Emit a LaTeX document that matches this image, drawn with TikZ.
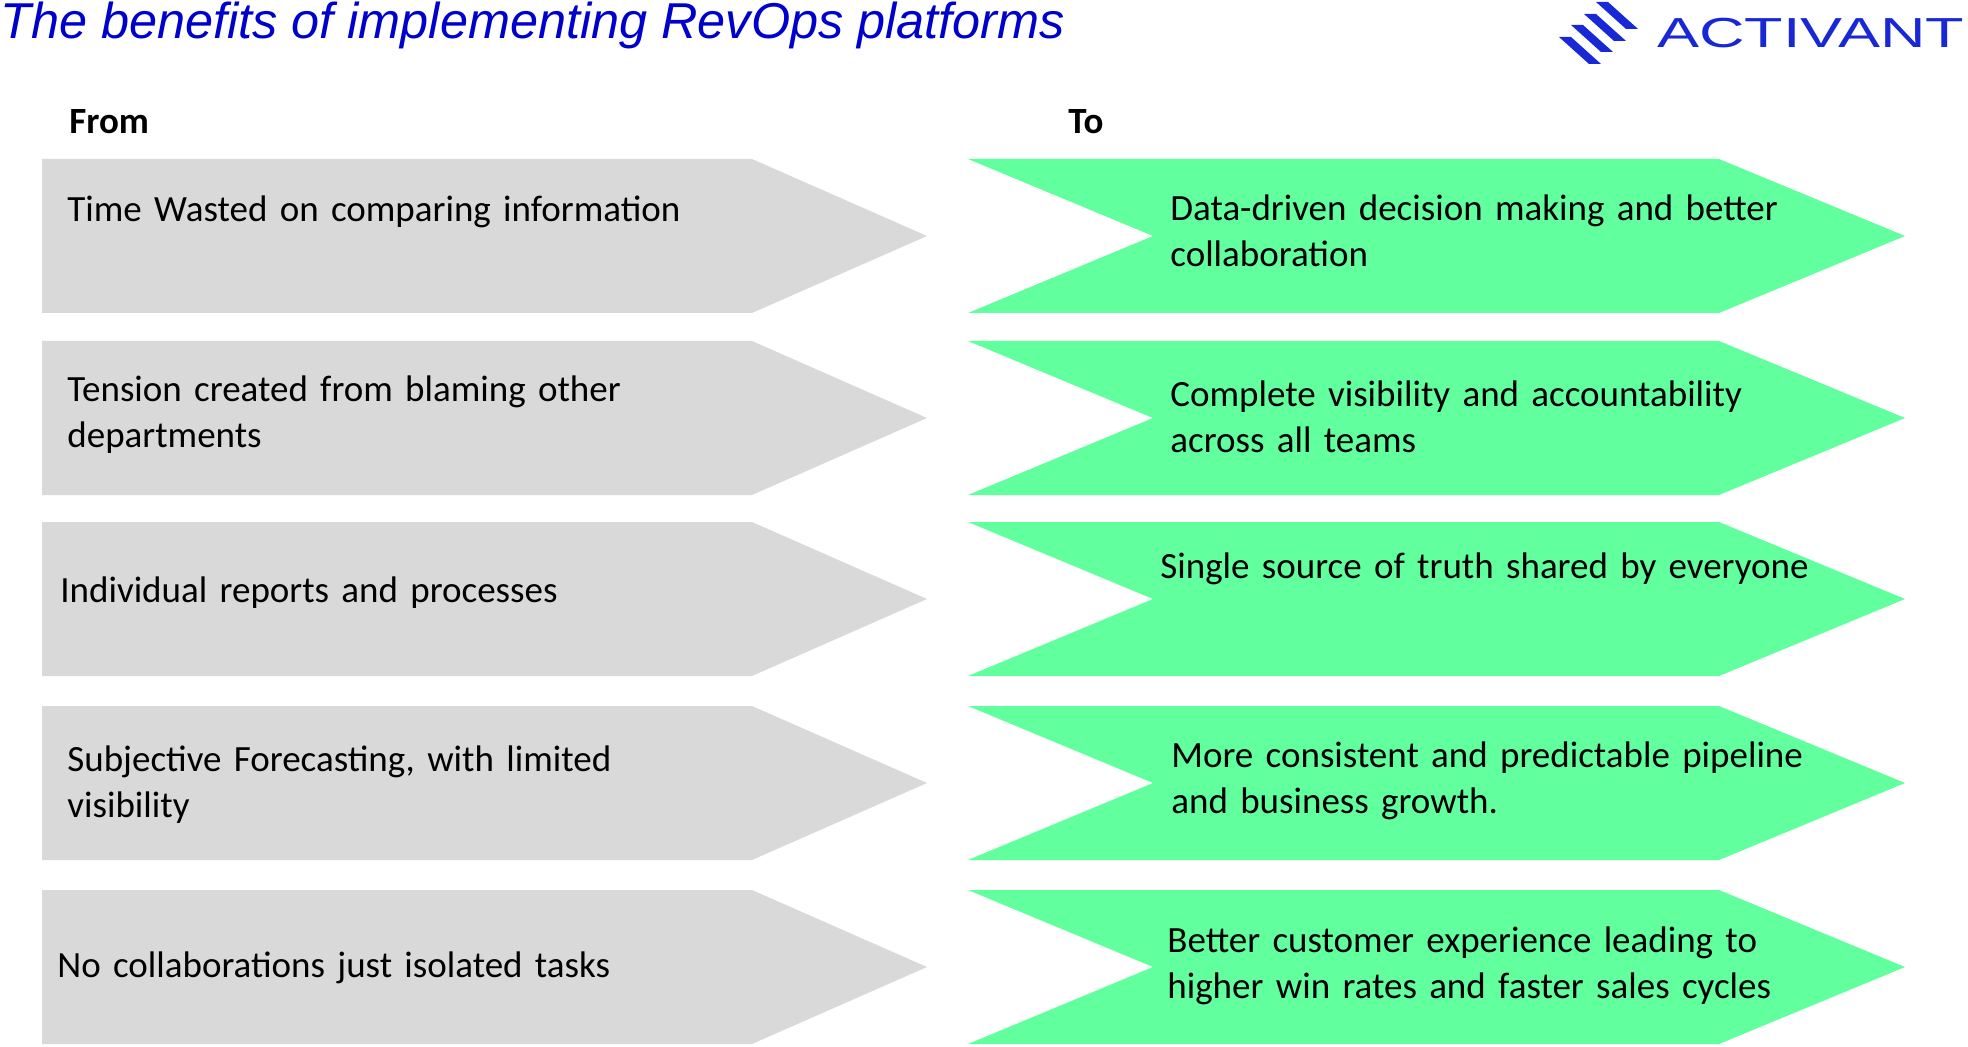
\documentclass[tikz,border=0pt]{standalone}
\usepackage{fontspec}
\setmainfont{Carlito}
\newfontfamily\titlefont{Liberation Sans}
\definecolor{fromgray}{RGB}{217,217,217}
\definecolor{togreen}{RGB}{97,255,158}
\definecolor{revblue}{RGB}{0,0,204}
\definecolor{logoblue}{RGB}{25,40,215}
\tikzset{
  fromshape/.style={fill=fromgray},
  toshape/.style={fill=togreen},
  item/.style={anchor=base west, inner sep=0pt, text width=380pt, align=left,
    font=\fontsize{18.5}{23}\selectfont},
  head/.style={anchor=base west, inner sep=0pt, font=\fontsize{18.5}{23}\selectfont\bfseries},
  logobar/.style={fill=logoblue}
}
\begin{document}
\begin{tikzpicture}[x=0.5pt, y=-0.5pt]
      \useasboundingbox (0,0) rectangle (1968,1047);
      \node[anchor=base west, inner sep=0pt, text=revblue, font=\titlefont\itshape\fontsize{25.2}{30}\selectfont] (title) at (0,39) {The benefits of implementing RevOps platforms};
      % logo
      \fill[logobar] (1596,2) -- (1608,2) -- (1638,29) -- (1626,29) -- cycle;
      \fill[logobar] (1584,14) -- (1596,14) -- (1626,41) -- (1614,41) -- cycle;
      \fill[logobar] (1571,25) -- (1583,25) -- (1613,52) -- (1601,52) -- cycle;
      \fill[logobar] (1559,37) -- (1571,37) -- (1601,64) -- (1589,64) -- cycle;
      \node[anchor=base west, inner sep=0pt, text=logoblue, font=\titlefont\fontsize{21}{25}\selectfont] (logo) at (1657,48) {\scalebox{1.5}[1]{ACTIVANT}};
      \node[head] (from) at (69,134) {From};
      \node[head] (to) at (1068,134) {To};
      % from arrows
      \fill[fromshape] (42,159) -- (752,159) -- (927,236) -- (752,313) -- (42,313) -- cycle;
      \fill[fromshape] (42,341) -- (752,341) -- (927,418) -- (752,495) -- (42,495) -- cycle;
      \fill[fromshape] (42,522) -- (752,522) -- (927,599) -- (752,676) -- (42,676) -- cycle;
      \fill[fromshape] (42,706) -- (752,706) -- (927,783) -- (752,860) -- (42,860) -- cycle;
      \fill[fromshape] (42,890) -- (752,890) -- (927,967) -- (752,1044) -- (42,1044) -- cycle;
      % to chevrons
      \fill[toshape] (968,159) -- (1719,159) -- (1905,236) -- (1719,313) -- (968,313) -- (1153,236) -- cycle;
      \fill[toshape] (968,341) -- (1719,341) -- (1905,418) -- (1719,495) -- (968,495) -- (1153,418) -- cycle;
      \fill[toshape] (968,522) -- (1719,522) -- (1905,599) -- (1719,676) -- (968,676) -- (1153,599) -- cycle;
      \fill[toshape] (968,706) -- (1719,706) -- (1905,783) -- (1719,860) -- (968,860) -- (1153,783) -- cycle;
      \fill[toshape] (968,890) -- (1719,890) -- (1905,967) -- (1719,1044) -- (968,1044) -- (1153,967) -- cycle;
      \node[item] (f1) at (67,222) {Time Wasted on comparing information};
      \node[item] (f2) at (67,402) {Tension created from blaming other\\departments};
      \node[item] (f3) at (60,602) {Individual reports and processes};
      \node[item] (f4) at (67,771) {Subjective Forecasting, with limited\\visibility};
      \node[item] (f5) at (57,977) {No collaborations just isolated tasks};
      \node[item] (t1) at (1170,221) {Data-driven decision making and better\\collaboration};
      \node[item] (t2) at (1170,407) {Complete visibility and accountability\\across all teams};
      \node[item] (t3) at (1160,578) {Single source of truth shared by everyone};
      \node[item] (t4) at (1171,767) {More consistent and predictable pipeline\\and business growth.};
      \node[item] (t5) at (1167,952) {Better customer experience leading to\\higher win rates and faster sales cycles};
    \end{tikzpicture}
\end{document}
